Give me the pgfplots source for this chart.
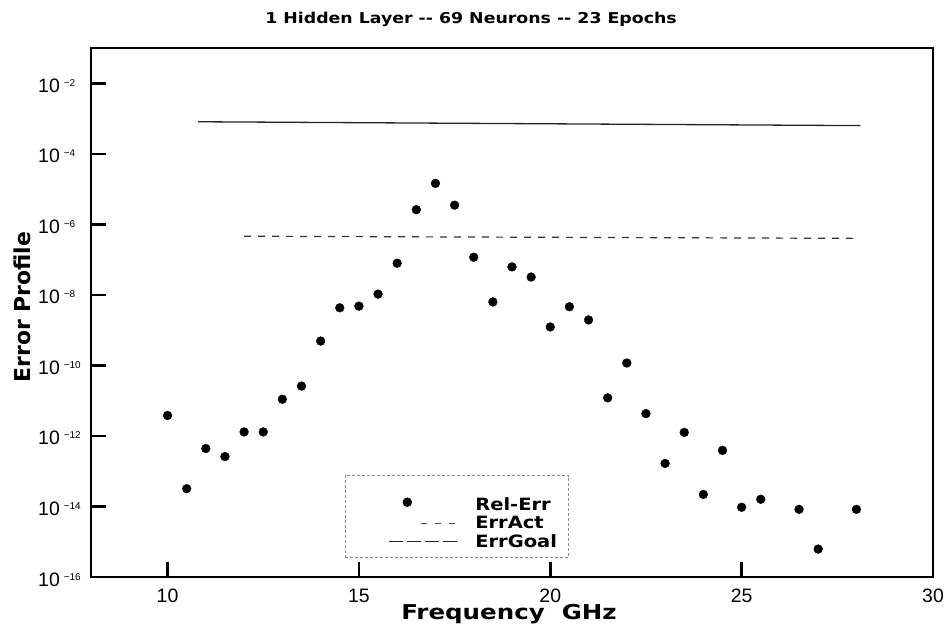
\documentclass[border=0pt]{standalone}
\usepackage{fontspec}
\setmainfont{Liberation Sans}
\newfontfamily\dv{DejaVu Sans}
\usepackage{graphicx}
\usepackage{pgfplots}
\usepackage{pgfplotstable}
\pgfplotsset{compat=1.18}

% relative error per frequency point
\pgfplotstableread{
f     err
10    3.8e-12
10.5  3.2e-14
11    4.4e-13
11.5  2.6e-13
12    1.3e-12
12.5  1.3e-12
13    1.1e-11
13.5  2.6e-11
14    4.9e-10
14.5  4.3e-9
15    4.8e-9
15.5  1.05e-8
16    7.9e-8
16.5  2.6e-6
17    1.45e-5
17.5  3.5e-6
18    1.17e-7
18.5  6.3e-9
19    6.2e-8
19.5  3.2e-8
20    1.23e-9
20.5  4.6e-9
21    1.95e-9
21.5  1.2e-11
22    1.17e-10
22.5  4.3e-12
23    1.66e-13
23.5  1.26e-12
24    2.2e-14
24.5  3.9e-13
25    9.5e-15
25.5  1.6e-14
26.5  8.3e-15
27    6.2e-16
28    8.3e-15
}\relerr

\newcommand{\tl}[1]{10\hspace{4bp}\raisebox{6bp}{\fontsize{10}{10}\selectfont −#1}}
\newcommand{\legtxt}[1]{\scalebox{1.15}[1]{#1}\hspace*{8bp}}

\pgfplotsset{
  imgmark/.style={legend image code/.code={
        \path[draw=none, fill=none] (0bp,0bp) -- (127bp,0bp);
        \fill[black] (60bp,-4bp) circle (4.4bp);}},
  imgact/.style={legend image code/.code={
        \path[draw=none, fill=none] (0bp,0bp) -- (127bp,0bp);
        \draw[black!70, line width=1.1bp, dash pattern=on 6bp off 8bp] (74bp,0bp) -- (110bp,0bp);}},
  imggoal/.style={legend image code/.code={
        \path[draw=none, fill=none] (0bp,0bp) -- (127bp,0bp);
        \draw[black!85, line width=1.2bp, dash pattern=on 14bp off 4bp] (42bp,0bp) -- (110bp,0bp);}},
}

\begin{document}
\begin{tikzpicture}
\begin{semilogyaxis}[
    scale only axis,
    width=842bp, height=529bp,
    xmin=8, xmax=30,
    ymin=1e-16, ymax=1e-1,
    axis line style={line width=2.5bp},
    xtick={10,15,20,25,30},
    xticklabels={10,15,20,25,30},
    ytick={1e-16,1e-14,1e-12,1e-10,1e-8,1e-6,1e-4,1e-2},
    yticklabels={\tl{16},\tl{14},\tl{12},\tl{10},\tl{8},\tl{6},\tl{4},\tl{2}},
    minor tick num=0,
    xtick pos=left, ytick pos=left,
    tick align=inside,
    major tick length=15bp,
    tick style={line width=2.5bp, black},
    ticklabel style={font=\fontsize{19.5}{19.5}\selectfont, inner sep=0pt},
    xticklabel style={anchor=base, yshift=-25bp},
    yticklabel style={anchor=base west, xshift=-53bp, yshift=-9bp},
    legend style={at={(0.3017,0.036)}, anchor=south west,
        draw=black!45, densely dashed, line width=0.6bp,
        inner xsep=2bp, inner ysep=8bp, row sep=2bp,
        font=\dv\bfseries\fontsize{17}{18}\selectfont,
        nodes={inner sep=1bp, solid}},
    legend cell align=left,
]
\addplot[only marks, mark=*, mark size=4.4bp, black, imgmark]
    table[x=f, y=err] {\relerr};
\addlegendentry{\rule{0pt}{27bp}\legtxt{Rel-Err}}
\addplot[black!80, line width=1.2bp, dash pattern=on 7bp off 7bp, imgact]
    coordinates {(12,4.6e-7) (28,4.0e-7)};
\addlegendentry{\legtxt{ErrAct}}
\addplot[black!85, line width=1.3bp, imggoal]
    coordinates {(10.8,8.1e-4) (28.1,6.3e-4)};
\addlegendentry{\legtxt{ErrGoal}}
\end{semilogyaxis}
\node[font=\dv\bfseries\fontsize{15}{15}\selectfont, xscale=1.16] at (380bp,558bp)
    {1 Hidden Layer -{}- 69 Neurons -{}- 23 Epochs};
\node[font=\dv\bfseries\fontsize{20.5}{20.5}\selectfont, xscale=1.2] at (418bp,-37bp)
    {Frequency\ \ GHz};
\node[font=\dv\bfseries\fontsize{22}{22}\selectfont, rotate=90] at (-69bp,270bp)
    {Error Profile};
\path[use as bounding box] (-91bp,-55bp) rectangle (856bp,577bp);
\end{tikzpicture}
\end{document}
